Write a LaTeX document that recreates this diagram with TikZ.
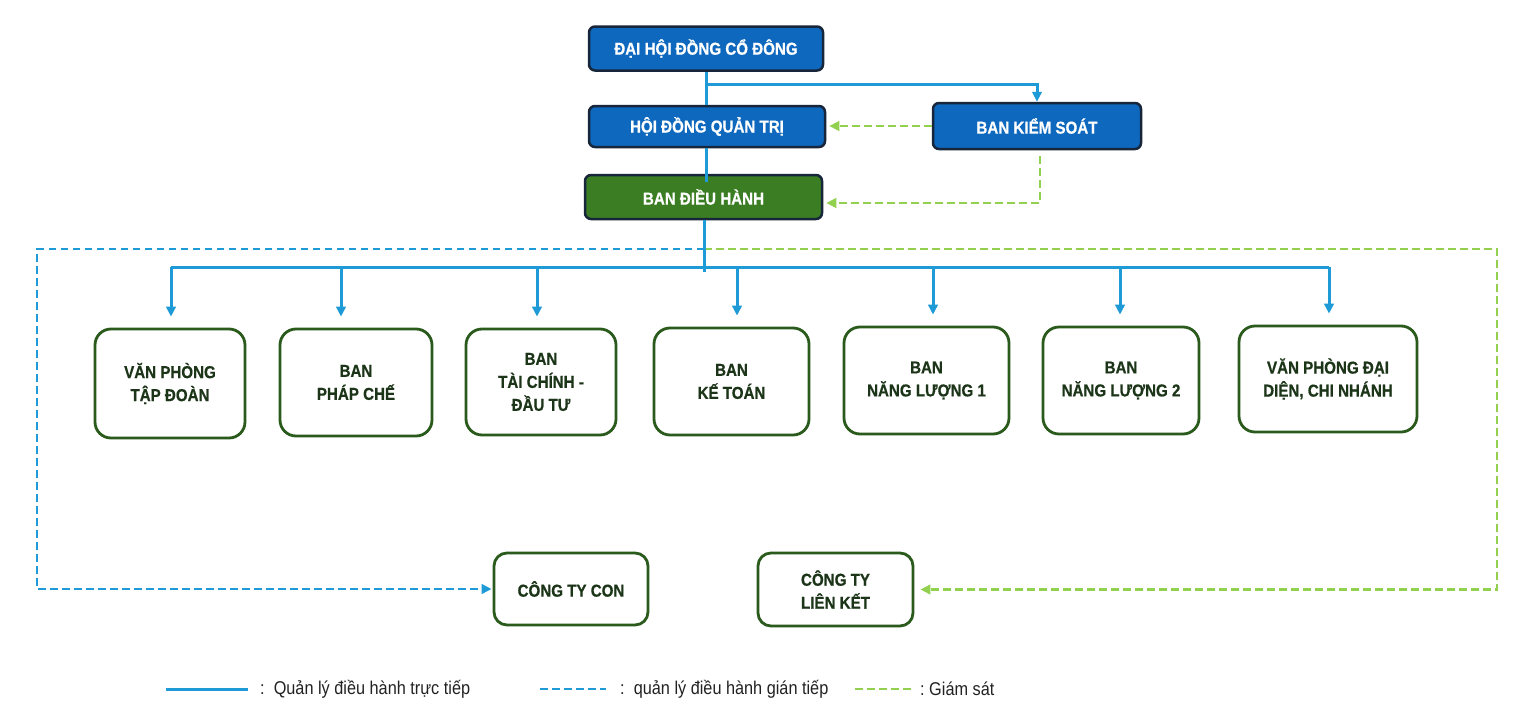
\documentclass[tikz,border=0pt]{standalone}
\usepackage{fontspec}
\setmainfont{Liberation Sans}[FakeStretch=0.88, BoldFeatures={FakeBold=0.6}]
\usetikzlibrary{arrows.meta,calc}
\definecolor{boxblue}{HTML}{0E68BE}
\definecolor{topborder}{HTML}{17263A}
\definecolor{boxgreen}{HTML}{3B7D22}
\definecolor{unitborder}{HTML}{2A5A1C}
\definecolor{unittext}{HTML}{1C3518}
\definecolor{lineblue}{HTML}{1E9BD7}
\definecolor{supgreen}{HTML}{92D050}
\definecolor{legendtext}{HTML}{222222}
\begin{document}
\begin{tikzpicture}[x=1pt,y=-1pt,
  topbox/.style={draw=topborder, line width=2.5pt, rounded corners=6pt, fill=boxblue, text=white,
    font=\bfseries\fontsize{17.2}{23}\selectfont, inner sep=0pt, align=center},
  unitbox/.style={draw=unitborder, line width=2.8pt, rounded corners=16pt, fill=white, text=unittext,
    font=\bfseries\fontsize{17.2}{23}\selectfont, inner sep=0pt, align=center},
  direct/.style={draw=lineblue, line width=3pt},
  tip/.style={-{Triangle[length=10pt,width=9.5pt]}},
  indirect/.style={draw=lineblue, line width=2.8pt, dash pattern=on 7.5pt off 4.5pt},
  superv/.style={draw=supgreen, line width=2.8pt, dash pattern=on 7.5pt off 4.5pt},
  legendlabel/.style={anchor=west, text=legendtext, font=\fontsize{18.5}{23}\selectfont, inner sep=0pt}
]
\useasboundingbox (0,0) rectangle (1536,720);
\fill[white] (0,0) rectangle (1536,720);

% top management boxes
\node[topbox, minimum width=234pt, minimum height=44pt] (dh) at (706,48.5) {ĐẠI HỘI ĐỒNG CỔ ĐÔNG};
\node[topbox, minimum width=236pt, minimum height=41pt] (hd) at (707,126.5) {HỘI ĐỒNG QUẢN TRỊ};
\node[topbox, minimum width=208pt, minimum height=46pt] (bks) at (1037,126) {BAN KIỂM SOÁT};
\node[topbox, fill=boxgreen, minimum width=237pt, minimum height=44pt] (bdh) at (703.5,197) {BAN ĐIỀU HÀNH};

% unit boxes
\node[unitbox, minimum width=150pt, minimum height=109pt] (b1) at (170,383.5) {VĂN PHÒNG\\TẬP ĐOÀN};
\node[unitbox, minimum width=152pt, minimum height=107pt] (b2) at (356,382.5) {BAN\\PHÁP CHẾ};
\node[unitbox, minimum width=150pt, minimum height=106pt] (b3) at (541,382) {BAN\\TÀI CHÍNH -\\ĐẦU TƯ};
\node[unitbox, minimum width=155pt, minimum height=107pt] (b4) at (731.5,381.5) {BAN\\KẾ TOÁN};
\node[unitbox, minimum width=165pt, minimum height=107pt] (b5) at (926.5,380.5) {BAN\\NĂNG LƯỢNG 1};
\node[unitbox, minimum width=156pt, minimum height=107pt] (b6) at (1121,380.5) {BAN\\NĂNG LƯỢNG 2};
\node[unitbox, minimum width=178pt, minimum height=106pt] (b7) at (1328,379) {VĂN PHÒNG ĐẠI\\DIỆN, CHI NHÁNH};

\node[unitbox, rounded corners=13pt, minimum width=154pt, minimum height=72pt] (con) at (571,589) {CÔNG TY CON};
\node[unitbox, rounded corners=13pt, minimum width=155pt, minimum height=73pt] (lk) at (835.5,589.5) {CÔNG TY\\LIÊN KẾT};

% supervision (green dashed) from BKS
\draw[superv, tip, shorten >=3pt] (bks.west) -- (hd.east |- bks.west);
\coordinate (g1) at (1040,149);
\draw[superv, tip, shorten <=6pt, shorten >=3pt] (bks.south -| g1) |- ([yshift=-6pt]bdh.east);

% indirect management & supervision to companies
\coordinate (dj) at (704,249);
\coordinate (dl) at (37,249);
\coordinate (dr) at (1497,249);
\draw[indirect, tip, shorten >=1pt] (dj) -- (dl) |- (con.west);
\draw[superv, tip, shorten >=6pt] (dj) -- (dr) |- (lk.east);

% direct management
\coordinate (j1) at (706,84);
\draw[direct] (dh.south -| j1) -- (hd.north -| j1);
\draw[direct, tip] (j1) -| (bks.north);
\draw[direct] (hd.south -| j1) -- ([yshift=-8pt]bdh.north -| j1);
\coordinate (busend) at (704,272);
\draw[direct] (bdh.south -| busend) -- (busend);

\coordinate (a1) at (171,267);
\coordinate (a2) at (341,267);
\coordinate (a3) at (537,267);
\coordinate (a4) at (737,267);
\coordinate (a5) at (933,267);
\coordinate (a6) at (1120,267);
\coordinate (a7) at (1329,267);
\draw[direct] (a1) -- (a7);
\foreach \i in {1,...,7}{
  \draw[direct, tip, shorten >=11pt] (a\i) -- (a\i |- b\i.north);
}

% legend
\coordinate (l1a) at (166,689); \coordinate (l1b) at (248,689);
\coordinate (l2a) at (540,689); \coordinate (l2b) at (606,689);
\coordinate (l3a) at (855,689); \coordinate (l3b) at (912,689);
\draw[direct] (l1a) -- (l1b);
\draw[indirect] (l2a) -- (l2b);
\draw[superv] (l3a) -- (l3b);
\node[legendlabel] (t1) at (260,689) {:\ \ Quản lý điều hành trực tiếp};
\node[legendlabel] (t2) at (620,689) {:\ \ quản lý điều hành gián tiếp};
\node[legendlabel] (t3) at (920,689) {:\ Giám sát};
\end{tikzpicture}
\end{document}
